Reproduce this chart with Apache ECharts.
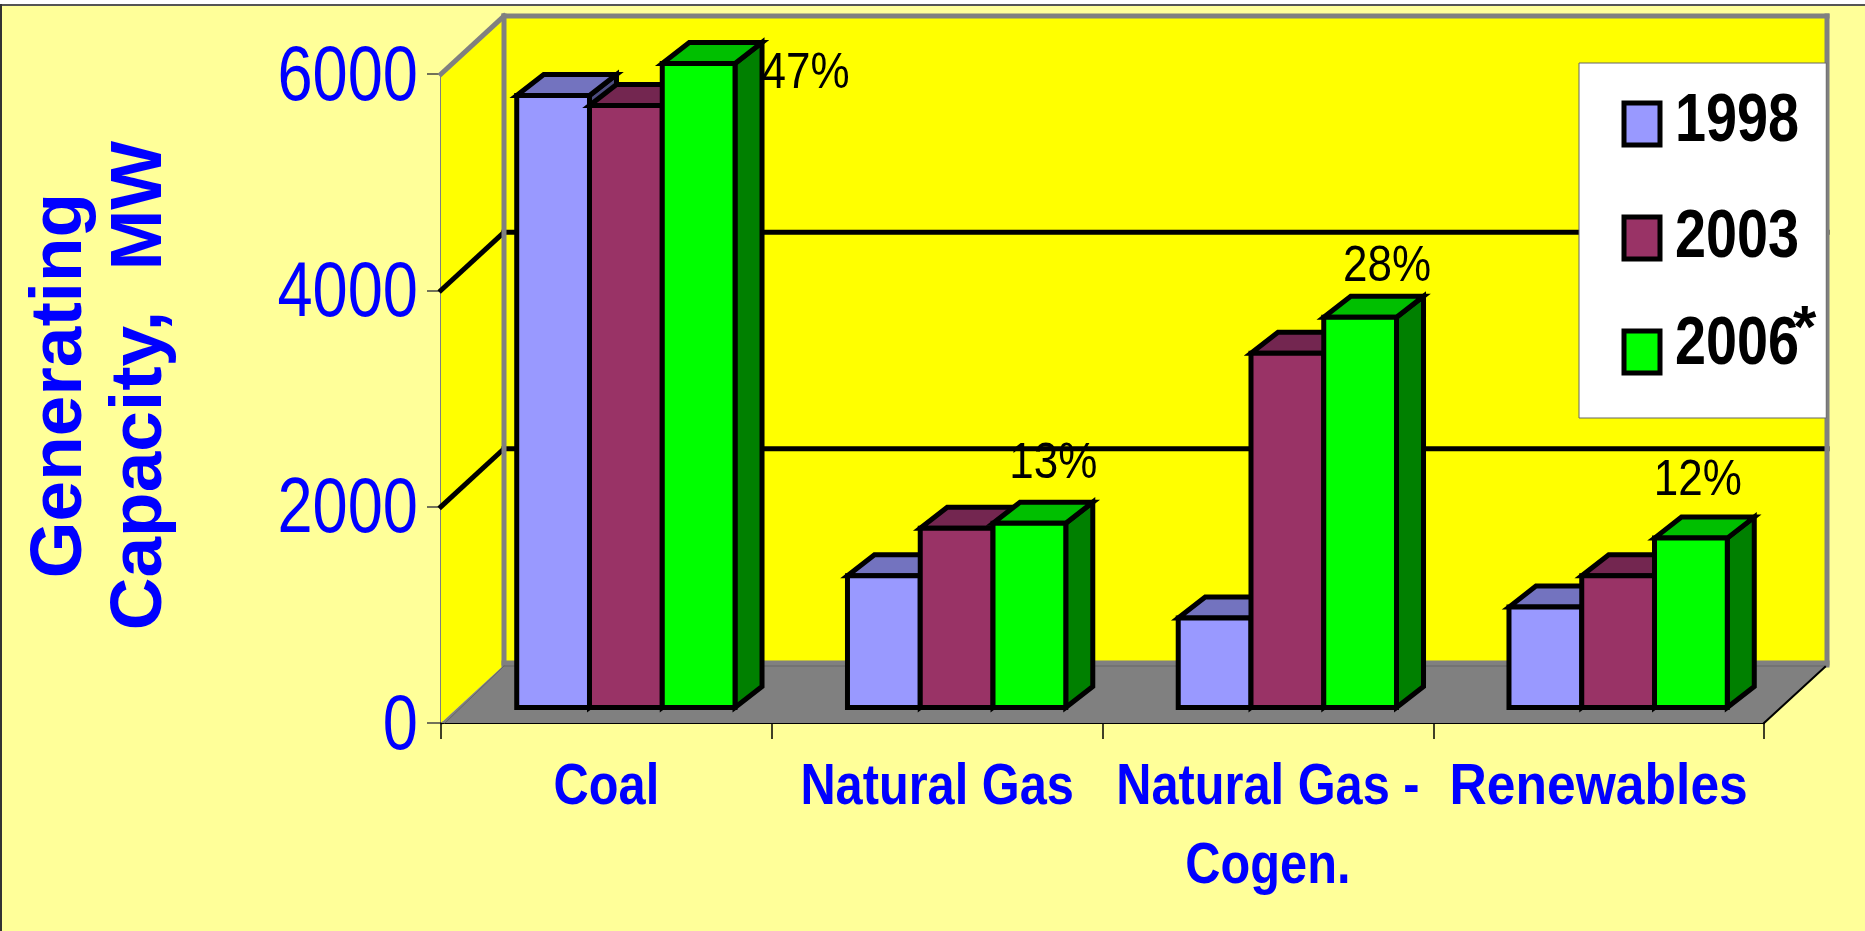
<!DOCTYPE html>
<html>
<head>
<meta charset="utf-8">
<style>html,body{margin:0;padding:0;background:#fff}#chart{width:1865px;height:931px}</style>
<script src="https://cdn.jsdelivr.net/npm/echarts@6/dist/echarts.min.js"></script>
</head>
<body>
<div id="chart"></div>
<script>
const categories = ['Coal', 'Natural Gas', 'Natural Gas -\nCogen.', 'Renewables'];
const years = ['1998', '2003', '2006'];
const values1998 = [5658, 1218, 827, 928];
const values2003 = [5566, 1658, 3275, 1218];
const values2006 = [5954, 1704, 3607, 1566];
const shares2006 = ['47%', '13%', '28%', '12%'];

// presentation settings
const SANS = '"Liberation Sans",Arial,sans-serif';
const BLUE = '#0000FF';
const WALL = { dx: 63, dy: -58 };
const FLOOR_OFFSET = { dx: 19.5, dy: -15.5 };
const BAR = { widthRatio: 0.22, dx: 27, dy: -21, line: 5 };
const GRID_INK = 5;
const FACES = [
  { front: '#9999FF', top: '#7373BF', side: '#4D4D80' },
  { front: '#993366', top: '#732650', side: '#4D1A33' },
  { front: '#00FF00', top: '#00BF00', side: '#008000' }
];
const labelOffsets = [[107, 11], [24, -59], [27, -50], [7, -57]];

function poly(points, fill, stroke, lw) {
  return {
    type: 'polygon',
    shape: { points: points },
    style: { fill: fill, stroke: stroke || null, lineWidth: lw || 0, lineJoin: 'miter' }
  };
}
function line(a, b, color, lw) {
  return {
    type: 'line',
    shape: { x1: a[0], y1: a[1], x2: b[0], y2: b[1] },
    style: { stroke: color, lineWidth: lw, fill: null, lineCap: 'square' }
  };
}

function renderWalls(params, api) {
  const c = params.coordSys;
  const L = c.x, R = c.x + c.width, T = c.y, B = c.y + c.height;
  const d = WALL;
  const kids = [
    poly([[L, T], [L + d.dx, T + d.dy], [L + d.dx, B + d.dy], [L, B]], '#FFFF00'),
    poly([[L + d.dx, T + d.dy], [R + d.dx, T + d.dy], [R + d.dx, B + d.dy], [L + d.dx, B + d.dy]], '#FFFF00')
  ];
  [2000, 4000].forEach(function (v) {
    const y = api.coord([0, v])[1];
    kids.push(line([L, y], [L + d.dx, y + d.dy], '#000', GRID_INK));
    kids.push(line([L + d.dx, y + d.dy], [R + d.dx, y + d.dy], '#000', GRID_INK));
  });
  kids.push(poly([[L, B], [L + d.dx, B + d.dy], [R + d.dx, B + d.dy], [R, B]], '#808080'));
  kids.push(line([L, T], [L + d.dx, T + d.dy], '#808080', 5));
  kids.push(line([L + d.dx, T + d.dy], [R + d.dx, T + d.dy], '#808080', 5));
  kids.push(line([L + d.dx, T + d.dy], [L + d.dx, B + d.dy], '#808080', 5));
  kids.push(line([R + d.dx, T + d.dy], [R + d.dx, B + d.dy], '#808080', 5));
  kids.push(line([L + d.dx, B + d.dy - 2], [R + d.dx, B + d.dy - 2], '#808080', 5));
  kids.push(line([L + d.dx, B + d.dy + 1], [R + d.dx - 1, B + d.dy + 1], '#666', 1));
  kids.push(line([L + 4, B], [L + d.dx, B + d.dy + 1], '#666', 1));
  kids.push(line([R, B], [R + d.dx - 2, B + d.dy + 2], '#000', 2));
  return { type: 'group', children: kids };
}

function makeBarRenderer(seriesIndex, labels) {
  return function (params, api) {
    const cat = api.value(0);
    const top = api.coord([cat, api.value(1)]);
    const base = api.coord([cat, 0]);
    const w = api.size([1, 0])[0] * BAR.widthRatio;
    const x0 = top[0] + FLOOR_OFFSET.dx + (seriesIndex - 1.5) * w;
    const x1 = x0 + w;
    const yt = top[1] + FLOOR_OFFSET.dy;
    const yb = base[1] + FLOOR_OFFSET.dy;
    const f = FACES[seriesIndex];
    const dx = BAR.dx, dy = BAR.dy, lw = BAR.line;
    const kids = [
      poly([[x1, yb], [x1 + dx, yb + dy], [x1 + dx, yt + dy], [x1, yt]], f.side, '#000', lw),
      poly([[x0, yt], [x0 + dx, yt + dy], [x1 + dx, yt + dy], [x1, yt]], f.top, '#000', lw),
      poly([[x0, yt], [x1, yt], [x1, yb], [x0, yb]], f.front, '#000', lw)
    ];
    if (labels) {
      const off = labelOffsets[params.dataIndex];
      kids.push({
        type: 'text',
        x: (x0 + x1) / 2 + off[0],
        y: yt + off[1],
        scaleX: 0.88,
        style: {
          text: labels[params.dataIndex],
          fill: '#000',
          font: '50px ' + SANS,
          align: 'center',
          verticalAlign: 'middle'
        }
      });
    }
    return { type: 'group', children: kids };
  };
}

function barSeries(name, values, idx, labels) {
  return {
    name: name,
    type: 'custom',
    coordinateSystem: 'cartesian2d',
    z: 3 + idx,
    itemStyle: { color: FACES[idx].front },
    encode: { x: 0, y: 1 },
    data: values.map(function (v, i) { return [i, v]; }),
    renderItem: makeBarRenderer(idx, labels),
    silent: true,
    animation: false
  };
}

const chart = echarts.init(document.getElementById('chart'), null, { renderer: 'canvas' });
chart.setOption({
  animation: false,
  backgroundColor: '#FFFFFF',
  textStyle: { fontFamily: SANS },
  grid: { left: 441, right: 101, top: 74, bottom: 208, containLabel: false, outerBoundsMode: 'none' },
  graphic: [
    { type: 'rect', z: -10, silent: true, shape: { x: 0, y: 4, width: 1865, height: 927 },
      style: { fill: '#FFFF99' } },
    { type: 'rect', z: -9, silent: true, shape: { x: 0, y: 4, width: 1865, height: 2 },
      style: { fill: '#555555' } },
    { type: 'rect', z: -9, silent: true, shape: { x: 0, y: 4, width: 2, height: 927 },
      style: { fill: '#333333' } },
    { type: 'text', z: 100, silent: true, left: 1793, top: 300,
      style: { text: '*', fill: '#000', font: 'bold 60px ' + SANS } }
  ],
  legend: {
    data: years,
    orient: 'vertical',
    left: 1579,
    top: 63,
    selectedMode: false,
    icon: 'rect',
    itemWidth: 36,
    itemHeight: 42,
    itemGap: 46,
    padding: [27, 10, 32, 43],
    backgroundColor: '#FFFFFF',
    borderColor: '#666666',
    borderWidth: 1,
    itemStyle: { borderColor: '#000', borderWidth: 4 },
    textStyle: { color: '#000', fontSize: 68, fontWeight: 'bold', fontFamily: SANS, padding: [0, 0, 12, 0] }
  },
  xAxis: {
    type: 'category',
    data: categories,
    boundaryGap: true,
    axisLine: { show: true, lineStyle: { color: '#000', width: 2 } },
    axisTick: { show: true, length: 16, lineStyle: { color: '#000', width: 1.5 } },
    axisLabel: {
      interval: 0, margin: 25, color: BLUE, fontFamily: SANS,
      fontSize: 58, fontWeight: 'bold', lineHeight: 79
    },
    splitLine: { show: false }
  },
  yAxis: {
    type: 'value',
    min: 0,
    max: 6000,
    interval: 2000,
    name: 'Generating\nCapacity,  MW',
    nameLocation: 'middle',
    nameGap: 260,
    nameRotate: 90,
    nameMoveOverlap: false,
    nameTextStyle: {
      color: BLUE, fontFamily: SANS,
      fontSize: 73, fontWeight: 'bold', lineHeight: 80, padding: [0, 0, 0, 26]
    },
    axisLine: { show: true, lineStyle: { color: '#808080', width: 3 } },
    axisTick: { show: true, length: 14, lineStyle: { color: '#444', width: 1.5 } },
    axisLabel: { margin: 23, color: BLUE, fontFamily: SANS, fontSize: 78, formatter: function (v) { return String(v); } },
    splitLine: { show: false }
  },
  series: [
    {
      name: 'walls',
      type: 'custom',
      coordinateSystem: 'cartesian2d',
      z: 1,
      silent: true,
      animation: false,
      encode: { x: 0, y: 1 },
      data: [[0, 0]],
      renderItem: renderWalls
    },
    barSeries(years[0], values1998, 0),
    barSeries(years[1], values2003, 1),
    barSeries(years[2], values2006, 2, shares2006)
  ]
});

// The source chart uses horizontally condensed lettering; narrow the drawn
// axis and legend text in place, keeping each label's anchor.
const narrowBy = { 78: 0.81, 58: 0.84, 68: 0.82 };
const narrowText = { 'Renewables': 0.89 };
const legendTextLift = { '1998': 2, '2006': 7 };
const legendKeyInk = 5, legendTextShift = 10, tickLabelDrop = 4;
chart.getZr().storage.traverse(function (el) {
  const st = el.style;
  if (!st) return;
  if (typeof st.text === 'string' && narrowBy[st.fontSize]) {
    el.originX = st.x || 0;
    el.scaleX = narrowText[st.text] || narrowBy[st.fontSize];
    if (st.fontSize === 68) {
      el.x = (el.x || 0) + legendTextShift;
      el.y = (el.y || 0) - (legendTextLift[st.text] || 0);
    }
    if (st.fontSize === 78) el.y = (el.y || 0) + tickLabelDrop;
    el.dirty();
  }
  if (el.shape && el.shape.symbolType === 'rect') {
    st.lineWidth = legendKeyInk;
    el.dirty();
  }
});
chart.getZr().refresh();
</script>
</body>
</html>
